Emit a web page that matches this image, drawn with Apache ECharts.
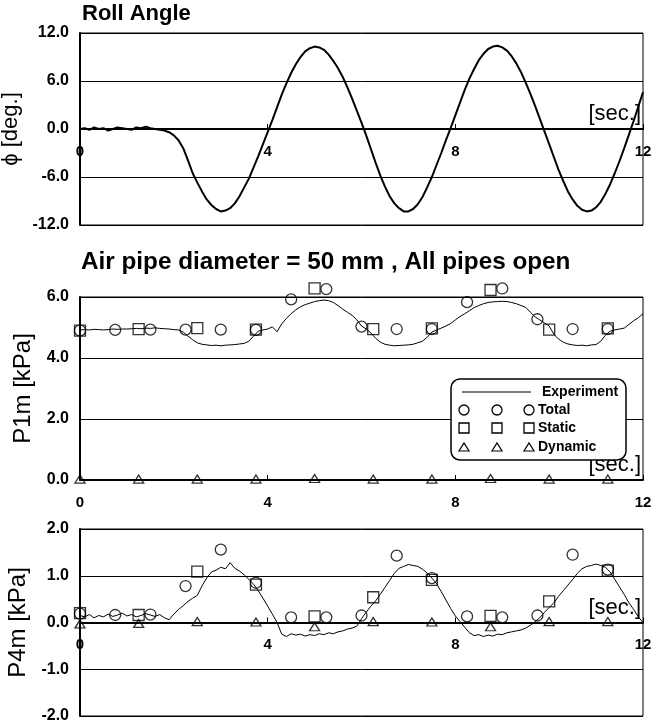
<!DOCTYPE html>
<html><head><meta charset="utf-8">
<script src="https://cdn.jsdelivr.net/npm/echarts@6/dist/echarts.min.js"></script>
<style>html,body{margin:0;padding:0;background:#fff}#c{width:668px;height:724px}</style>
</head><body><div id="c"></div>
<script>
// ---- time base of the measured records [sec]
const timeSec = [0.0,0.1,0.2,0.3,0.4,0.5,0.6,0.7,0.8,0.9,1.0,1.1,1.2,1.3,1.4,1.5,1.6,1.7,1.8,1.9,
2.0,2.1,2.2,2.3,2.4,2.5,2.6,2.7,2.8,2.9,3.0,3.1,3.2,3.3,3.4,3.5,3.6,3.7,3.8,3.9,
4.0,4.1,4.2,4.3,4.4,4.5,4.6,4.7,4.8,4.9,5.0,5.1,5.2,5.3,5.4,5.5,5.6,5.7,5.8,5.9,
6.0,6.1,6.2,6.3,6.4,6.5,6.6,6.7,6.8,6.9,7.0,7.1,7.2,7.3,7.4,7.5,7.6,7.7,7.8,7.9,
8.0,8.1,8.2,8.3,8.4,8.5,8.6,8.7,8.8,8.9,9.0,9.1,9.2,9.3,9.4,9.5,9.6,9.7,9.8,9.9,
10.0,10.1,10.2,10.3,10.4,10.5,10.6,10.7,10.8,10.9,11.0,11.1,11.2,11.3,11.4,11.5,11.6,11.7,11.8,11.9,12.0];

// ---- Roll angle [deg]
const rollAngle = [0.0,0.1,-0.1,0.2,0.0,0.1,-0.2,0.0,0.2,0.1,0.0,-0.1,0.2,0.1,0.3,0.1,0.0,-0.1,-0.2,-0.4,
-0.8,-1.4,-2.4,-3.9,-5.5,-6.7,-7.8,-8.8,-9.5,-10.0,-10.3,-10.2,-9.9,-9.3,-8.4,-7.3,-6.2,-4.8,-3.4,-1.9,
-0.4,1.1,2.7,4.3,5.7,7.0,8.1,9.0,9.7,10.1,10.3,10.2,9.9,9.3,8.5,7.6,6.5,5.2,3.8,2.3,
0.8,-0.8,-2.5,-4.2,-5.8,-7.2,-8.4,-9.3,-9.9,-10.3,-10.3,-10.0,-9.4,-8.5,-7.3,-6.0,-4.5,-3.0,-1.4,0.1,
1.7,3.3,4.9,6.3,7.5,8.6,9.4,10.0,10.3,10.4,10.2,9.8,9.1,8.2,7.1,5.8,4.4,2.9,1.3,-0.3,
-1.9,-3.5,-5.1,-6.5,-7.8,-8.8,-9.6,-10.1,-10.3,-10.2,-9.8,-9.1,-8.1,-6.9,-5.5,-4.0,-2.4,-0.7,1.0,2.8,4.6];

// ---- P1m experiment [kPa]
const p1mExp = [4.92,4.93,4.92,4.94,4.93,4.92,4.93,4.95,4.94,4.95,4.95,4.96,4.97,4.96,4.98,4.97,4.99,4.97,4.96,4.95,
4.93,4.92,4.85,4.72,4.60,4.50,4.45,4.43,4.41,4.42,4.40,4.42,4.43,4.44,4.46,4.48,4.55,4.72,4.88,4.92,
4.95,5.02,4.86,5.12,5.30,5.45,5.58,5.68,5.75,5.80,5.85,5.88,5.90,5.88,5.82,5.72,5.60,5.50,5.40,5.25,
5.05,4.95,4.82,4.65,4.52,4.45,4.42,4.40,4.41,4.42,4.43,4.45,4.50,4.55,4.68,4.85,4.92,4.98,5.05,5.13,
5.25,5.36,5.45,5.55,5.65,5.72,5.78,5.82,5.84,5.85,5.86,5.85,5.82,5.78,5.72,5.66,5.50,5.35,5.25,5.15,
5.05,4.78,4.62,4.52,4.46,4.43,4.41,4.42,4.40,4.43,4.44,4.55,4.75,4.88,4.92,4.95,4.98,5.10,5.22,5.32,5.45];

// ---- P4m experiment [kPa]
const p4mExp = [0.15,0.12,0.17,0.10,0.15,0.12,0.18,0.13,0.16,0.20,0.14,0.17,0.12,0.15,0.19,0.16,0.13,0.17,0.10,0.06,
0.18,0.28,0.36,0.45,0.52,0.58,0.78,0.95,1.08,1.12,1.18,1.15,1.28,1.16,1.10,1.02,0.92,0.82,0.68,0.52,
0.35,0.18,0.00,-0.25,-0.30,-0.24,-0.27,-0.25,-0.29,-0.26,-0.28,-0.24,-0.26,-0.22,-0.24,-0.20,-0.18,-0.14,-0.12,-0.08,
0.08,0.22,0.35,0.46,0.60,0.75,0.90,1.05,1.16,1.20,1.24,1.22,1.20,1.14,1.06,0.95,0.83,0.66,0.48,0.30,
0.14,0.02,-0.10,-0.22,-0.28,-0.26,-0.30,-0.27,-0.29,-0.25,-0.26,-0.22,-0.20,-0.18,-0.16,-0.12,-0.06,0.02,0.10,0.22,
0.32,0.42,0.56,0.68,0.80,0.92,1.05,1.15,1.20,1.22,1.25,1.22,1.18,1.08,0.92,0.76,0.60,0.42,0.28,0.12,0.00];

// ---- calculated values
const totalTimes = [0,0.75,1.5,2.25,3.0,3.75,4.5,5.25,6.0,6.75,7.5,8.25,9.0,9.75,10.5,11.25];
const partTimes  = [0,1.25,2.5,3.75,5.0,6.25,7.5,8.75,10.0,11.25];

const p1mTotal   = [4.90,4.92,4.93,4.93,4.93,4.92,5.92,6.26,5.03,4.95,4.95,5.83,6.28,5.27,4.95,4.95];
const p1mStatic  = [4.90,4.95,4.98,4.93,6.28,4.95,4.97,6.23,4.93,4.97];
const p1mDynamic = [0.03,0.03,0.03,0.03,0.05,0.03,0.03,0.05,0.03,0.03];

const p4mTotal   = [0.19,0.16,0.17,0.78,1.56,0.85,0.11,0.11,0.15,1.43,0.95,0.13,0.11,0.15,1.45,1.13];
const p4mStatic  = [0.20,0.16,1.09,0.81,0.13,0.54,0.91,0.14,0.45,1.11];
const p4mDynamic = [-0.03,-0.02,0.02,0.01,-0.09,0.02,0.01,-0.09,0.02,0.02];

// ---- axis ticks
const xTicks = {min:0, max:12, interval:4};
const yRoll = {min:-12, max:12, interval:6};
const yP1m  = {min:0, max:6, interval:2};
const yP4m  = {min:-2, max:2, interval:1};

const FONT = 'Liberation Sans, Arial, sans-serif';
function pairs(xs, ys){ return xs.map((x,i)=>[x, ys[i]]); }

const grids = [
  {left:80, top:33, width:563, height:192},
  {left:80, top:297, width:563, height:183},
  {left:80, top:529, width:563, height:187}
];
const yRanges = [yRoll, yP1m, yP4m];

// x axis drawn on the zero line of its panel
function xAxis(i){
  const g = grids[i], r = yRanges[i];
  const zeroShift = -g.height * (0 - r.min) / (r.max - r.min);
  return {gridIndex:i, type:'value', min:xTicks.min, max:xTicks.max, interval:xTicks.interval,
    offset: zeroShift,
    axisLine:{onZero:false, lineStyle:{color:'#000', width:2}},
    axisTick:{show:true, inside:true, length:5, lineStyle:{color:'#000', width:1}},
    axisLabel:{margin:15, fontSize:15, fontWeight:'bold', color:'#000', fontFamily:FONT},
    splitLine:{show:false},
    name:'[sec.]', nameLocation:'end', nameGap:-2,
    nameTextStyle:{fontSize:22, color:'#000', fontFamily:FONT, align:'right', verticalAlign:'bottom', padding:[0,0,4,0]}
  };
}
function yAxis(i, t, name, fs, gap){
  return {gridIndex:i, type:'value', min:t.min, max:t.max, interval:t.interval,
    axisLine:{show:true, onZero:false, lineStyle:{color:'#000', width:2}},
    axisTick:{show:false},
    axisLabel:{margin:11, fontSize:16, fontWeight:'bold', color:'#000', fontFamily:FONT,
      formatter: v => v.toFixed(1)},
    splitLine:{show:true, lineStyle:{color:'#000', width:1}},
    name:name, nameLocation:'middle', nameGap:gap,
    nameTextStyle:{fontSize:fs, color:'#000', fontFamily:FONT}
  };
}
const hollow = {color:'rgba(255,255,255,0)', borderColor:'#000', borderWidth:1.3};
function scat(i, xs, ys, symbol, size){
  return {type:'scatter', xAxisIndex:i, yAxisIndex:i, data:pairs(xs, ys), symbol:symbol,
    symbolSize:size, itemStyle:hollow, z:5, silent:true, clip:false};
}
function line(i, ys, w){
  return {type:'line', xAxisIndex:i, yAxisIndex:i, data:pairs(timeSec, ys), showSymbol:false,
    lineStyle:{color:'#000', width:w}, z:3, silent:true};
}

// legend drawn as graphic
const legX = [464, 497, 529];
const legend = [
  {type:'rect', z:100, shape:{x:451, y:379, width:175, height:81, r:9}, style:{fill:'#fff', stroke:'#000', lineWidth:1.5}},
  {type:'line', z:101, shape:{x1:462, y1:392, x2:531, y2:392}, style:{stroke:'#000', lineWidth:1}},
  {type:'text', z:101, x:542, y:392, style:{text:'Experiment', font:'bold 14px '+FONT, fill:'#000', verticalAlign:'middle'}},
  {type:'text', z:101, x:538, y:410, style:{text:'Total', font:'bold 14px '+FONT, fill:'#000', verticalAlign:'middle'}},
  {type:'text', z:101, x:538, y:428, style:{text:'Static', font:'bold 14px '+FONT, fill:'#000', verticalAlign:'middle'}},
  {type:'text', z:101, x:538, y:447, style:{text:'Dynamic', font:'bold 14px '+FONT, fill:'#000', verticalAlign:'middle'}}
];
legX.forEach(x => {
  legend.push({type:'circle', z:101, shape:{cx:x, cy:410, r:5}, style:{fill:'none', stroke:'#000', lineWidth:1.3}});
  legend.push({type:'rect', z:101, shape:{x:x-5, y:423, width:10, height:10}, style:{fill:'none', stroke:'#000', lineWidth:1.3}});
  legend.push({type:'polygon', z:101, shape:{points:[[x-5,451],[x+5,451],[x,443]]}, style:{fill:'none', stroke:'#000', lineWidth:1.2}});
});

const chart = echarts.init(document.getElementById('c'));
chart.setOption({
  animation:false,
  backgroundColor:'#fff',
  textStyle:{fontFamily:FONT},
  title:[
    {text:'Roll Angle', left:82, top:3, padding:0, textStyle:{fontSize:22, fontWeight:'bold', color:'#000', fontFamily:FONT}},
    {text:'Air pipe diameter = 50 mm , All pipes open', left:81, top:250, padding:0, textStyle:{fontSize:24.3, fontWeight:'bold', color:'#000', fontFamily:FONT}}
  ],
  grid: grids.map(g => Object.assign({show:true, borderColor:'#000', borderWidth:1, backgroundColor:'transparent', containLabel:false, outerBoundsMode:'none'}, g)),
  xAxis:[xAxis(0), xAxis(1), xAxis(2)],
  yAxis:[yAxis(0, yRoll, 'ϕ [deg.]', 22, 47), yAxis(1, yP1m, 'P1m [kPa]', 24, 45), yAxis(2, yP4m, 'P4m [kPa]', 24, 45)],
  series:[
    line(0, rollAngle, 2),
    line(1, p1mExp, 1),
    scat(1, totalTimes, p1mTotal, 'circle', 11),
    scat(1, partTimes, p1mStatic, 'rect', 11),
    scat(1, partTimes, p1mDynamic, 'triangle', [10,8]),
    line(2, p4mExp, 1),
    scat(2, totalTimes, p4mTotal, 'circle', 11),
    scat(2, partTimes, p4mStatic, 'rect', 11),
    scat(2, partTimes, p4mDynamic, 'triangle', [10,8])
  ],
  graphic: legend
});
</script></body></html>
